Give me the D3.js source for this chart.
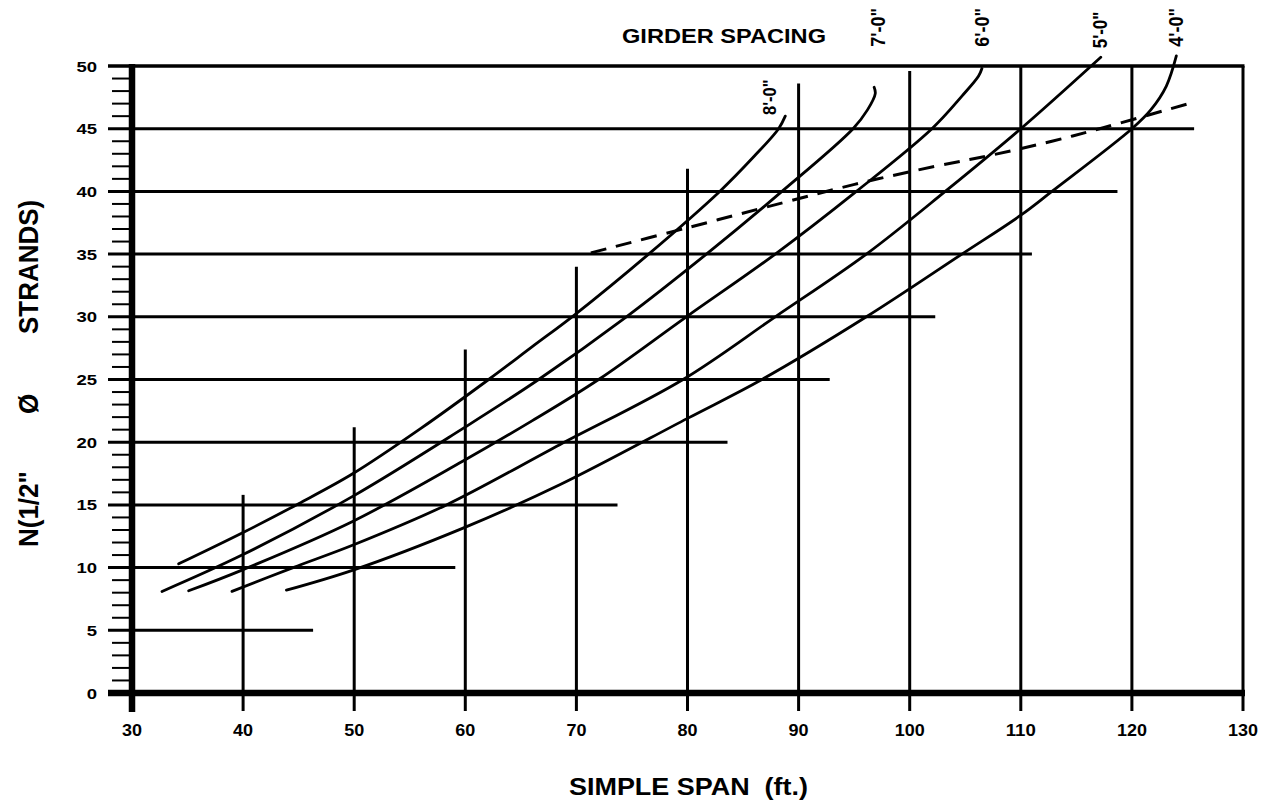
<!DOCTYPE html>
<html>
<head>
<meta charset="utf-8">
<script src="https://cdn.jsdelivr.net/npm/d3@7"></script>
<style>
  html, body { margin: 0; padding: 0; background: #fff; }
  svg { display: block; }
  text { font-family: "Liberation Sans", Arial, Helvetica, sans-serif; font-weight: bold; fill: #000; }
</style>
</head>
<body>
<script>
// ---------------- DATA ----------------
const xTicks = [30, 40, 50, 60, 70, 80, 90, 100, 110, 120, 130];
const yTicks = [0, 5, 10, 15, 20, 25, 30, 35, 40, 45, 50];

// vertical guide lines: span and the N value where each stops
const vSpans = [40, 50, 60, 70, 80, 90, 100, 110, 120];
const vTops  = [15.8, 21.2, 27.4, 34.0, 41.8, 48.6, 49.6, 50, 50];

// horizontal guide lines: N level and the span where each stops
const hLevels = [5, 10, 15, 20, 25, 30, 35, 40, 45];
const hEnds   = [46.3, 59.1, 73.7, 83.6, 92.8, 102.3, 111.0, 118.7, 125.6];

// girder spacing curves (span ft, N strands)
const spacingLabels = ["8'-0\"", "7'-0\"", "6'-0\"", "5'-0\"", "4'-0\""];
const span8 = [34.2, 40, 45, 49.9, 56, 62.1, 66, 69.9, 76.5, 82.9, 86, 88.2, 88.8];
const n8    = [10.3, 12.8, 15.1, 17.5, 21.1, 25.0, 27.6, 30.2, 35.0, 40.0, 42.8, 45.0, 46.0];
const span7 = [32.7, 39.9, 49.9, 59.8, 66.6, 74.5, 81.7, 88.5, 94.9, 96.2, 96.9, 96.8];
const n7    = [8.1, 11.0, 15.7, 21.1, 25.0, 30.0, 35.0, 40.0, 45.0, 46.5, 47.8, 48.3];
const span6 = [35.1, 39.9, 49.9, 59.8, 66, 72.0, 79.9, 87.9, 95.2, 102, 104.7, 106.2, 106.5];
const n6    = [8.15, 9.8, 13.7, 18.5, 21.7, 25.0, 30.0, 35.0, 40.0, 45.0, 47.6, 49.2, 49.8];
const span5 = [39.0, 44.5, 49.9, 58.3, 68.5, 79.6, 87.9, 96.1, 103.2, 110, 117.2];
const n5    = [8.1, 10.0, 11.8, 15.0, 19.8, 25.0, 30.0, 35.0, 40.0, 45.0, 50.7];
const span4 = [43.9, 49.9, 59.8, 68.5, 80, 86.7, 96.1, 104.7, 110, 112.8, 120, 121.7, 123.1, 124.0];
const n4    = [8.2, 9.8, 13.15, 16.6, 21.9, 25.0, 30.0, 35.0, 38.1, 40.0, 45.0, 46.5, 48.4, 50.8];

// dashed limit line
const dashSpan = [71.3, 80, 88.6, 95.7, 102.3, 107.4, 112.8, 117.5, 125.1];
const dashN    = [35.1, 37.1, 39.1, 40.7, 42.0, 42.9, 44.0, 45.1, 47.0];

const xTitle = "SIMPLE SPAN  (ft.)";
const yTitleParts = ["N(1/2\"", "Ø", "STRANDS)"];
const topTitle = "GIRDER SPACING";

// ---------------- LAYOUT ----------------
const W = 1269, H = 806;
const x = d3.scaleLinear().domain([30, 130]).range([132, 1243]);
const y = d3.scaleLinear().domain([0, 50]).range([693, 66]);

const svg = d3.select("body").append("svg").attr("width", W).attr("height", H);
svg.append("rect").attr("width", W).attr("height", H).attr("fill", "#fff");

const g = svg.append("g").attr("stroke", "#000").attr("fill", "none");
const tickBottom = 711;

// minor y ticks
g.selectAll(".minor").data(d3.range(0, 51).filter(v => v % 5 !== 0)).join("line")
  .attr("x1", 112).attr("x2", x(30)).attr("y1", d => y(d)).attr("y2", d => y(d))
  .attr("stroke-width", 2);

// horizontal guide lines (include major tick stub)
const hData = hLevels.map((v, i) => ({ v, end: hEnds[i] }));
g.selectAll(".hline").data(hData).join("line")
  .attr("x1", 108).attr("x2", d => x(d.end)).attr("y1", d => y(d.v)).attr("y2", d => y(d.v))
  .attr("stroke-width", 3);

// vertical guide lines (include tick below axis)
const vData = vSpans.map((s, i) => ({ s, top: vTops[i] }));
g.selectAll(".vline").data(vData).join("line")
  .attr("x1", d => x(d.s)).attr("x2", d => x(d.s)).attr("y1", tickBottom).attr("y2", d => y(d.top))
  .attr("stroke-width", 3);

// frame: top border, right border
g.append("line").attr("x1", 108).attr("x2", x(130) + 1.5).attr("y1", y(50)).attr("y2", y(50)).attr("stroke-width", 3.5);
g.append("line").attr("x1", x(130)).attr("x2", x(130)).attr("y1", y(50)).attr("y2", tickBottom).attr("stroke-width", 3);

// axes (thick)
g.append("line").attr("x1", 108).attr("x2", x(130) + 2).attr("y1", y(0)).attr("y2", y(0)).attr("stroke-width", 6.5);
g.append("line").attr("x1", x(30)).attr("x2", x(30)).attr("y1", y(50) - 2).attr("y2", tickBottom + 1).attr("stroke-width", 6.5);

// curves
const line = d3.line().x(d => x(d[0])).y(d => y(d[1])).curve(d3.curveCatmullRom.alpha(0.5));
const curves = [[span8, n8], [span7, n7], [span6, n6], [span5, n5], [span4, n4]]
  .map(([s, n]) => s.map((v, i) => [v, n[i]]));
g.selectAll(".curve").data(curves).join("path")
  .attr("d", line).attr("stroke-width", 2.8).attr("stroke-linecap", "round");

// dashed line
g.append("path").datum(dashSpan.map((v, i) => [v, dashN[i]]))
  .attr("d", line).attr("stroke-width", 3).attr("stroke-dasharray", "16,10");

// ---------------- TEXT ----------------
// y tick labels
svg.selectAll(".ylab").data(yTicks).join("text")
  .attr("x", 97).attr("y", d => y(d) + 5.5).attr("text-anchor", "end")
  .attr("font-size", 15.5)
  .attr("textLength", d => String(d).length * 10.3).attr("lengthAdjust", "spacingAndGlyphs")
  .text(d => d);

// x tick labels
svg.selectAll(".xlab").data(xTicks).join("text")
  .attr("x", d => x(d)).attr("y", 736).attr("text-anchor", "middle")
  .attr("font-size", 16)
  .attr("textLength", d => String(d).length * 10).attr("lengthAdjust", "spacingAndGlyphs")
  .text(d => d);

// x title
svg.append("text").attr("x", (569 + 808) / 2).attr("y", 795).attr("text-anchor", "middle")
  .attr("font-size", 23).attr("textLength", 239).attr("lengthAdjust", "spacingAndGlyphs")
  .style("white-space", "pre").text(xTitle);

// y title (rotated)
const yt = svg.append("text").attr("transform", "translate(38,547) scale(1.08,1) rotate(-90)").attr("font-size", 26);
const yOffsets = [0, 133, 213];
yTitleParts.forEach((t, i) => yt.append("tspan").attr("x", yOffsets[i]).attr("y", 0).text(t));

// top title
svg.append("text").attr("x", 622).attr("y", 42.5).attr("font-size", 21)
  .attr("textLength", 204).attr("lengthAdjust", "spacingAndGlyphs").text(topTitle);

// girder spacing labels (rotated)
const labelSpan = [88.0, 97.8, 107.1, 117.8, 124.6];
const labelBottom = [115, 46.7, 46.7, 48.3, 46.7];
const labelSize = [16.5, 18, 18, 17, 18];
svg.selectAll(".glab").data(spacingLabels).join("text")
  .attr("transform", (d, i) => `translate(${x(labelSpan[i])},${labelBottom[i]}) scale(1.15,1) rotate(-90)`)
  .attr("font-size", (d, i) => labelSize[i])
  .text(d => d);
</script>
</body>
</html>
